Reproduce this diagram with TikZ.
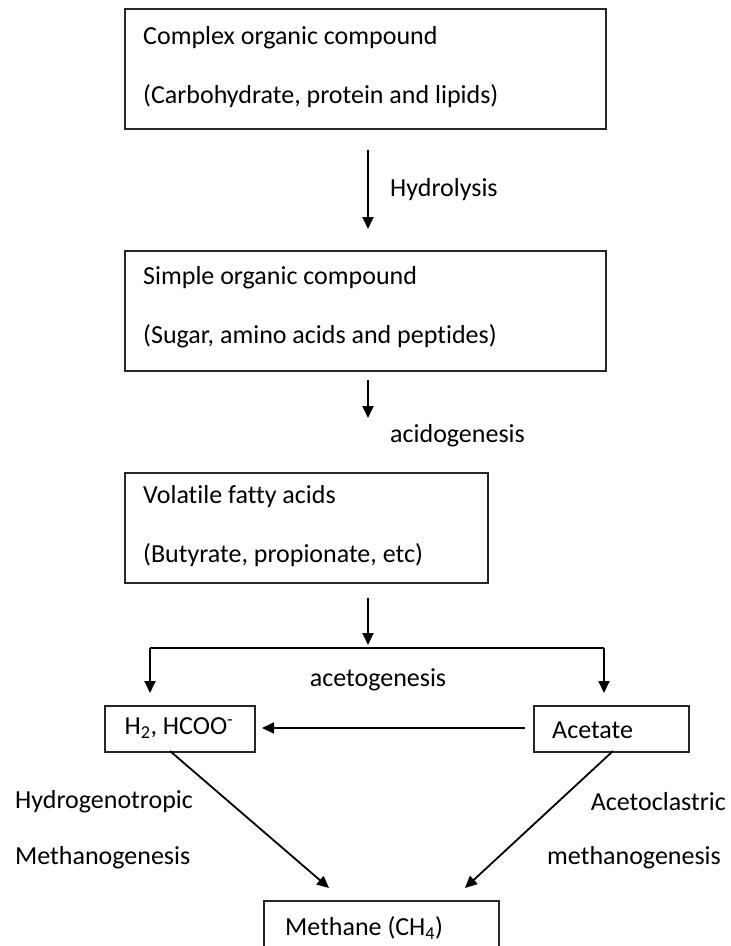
\documentclass[tikz,border=0pt]{standalone}
\usepackage{fontspec}
\setmainfont[Ligatures=NoCommon]{Carlito}
\usetikzlibrary{arrows.meta}
\begin{document}
\begin{tikzpicture}[x=1pt,y=-1pt,
  box/.style={draw=black!85, line width=1.8pt, anchor=north west, inner sep=0pt},
  txt/.style={anchor=west, inner sep=0pt, font=\fontsize{26}{30}\selectfont, text=black},
  arr/.style={line width=1.8pt, -{Triangle[length=12pt,width=11pt]}},
  ln/.style={line width=1.8pt}]
\useasboundingbox (0,0) rectangle (731,946);
\clip (0,0) rectangle (731,946);
% boxes
\node[box, minimum width=481pt, minimum height=120pt] (b1) at (124,8) {};
\node[box, minimum width=481pt, minimum height=120pt] (b2) at (124,250) {};
\node[box, minimum width=363pt, minimum height=110pt] (b3) at (124,472) {};
\node[box, minimum width=150pt, minimum height=46pt] (h2) at (104,705) {};
\node[box, minimum width=155pt, minimum height=46pt] (ac) at (533,705) {};
\node[box, minimum width=235pt, minimum height=60pt] (me) at (263,900) {};
% texts
\node[txt] (t1a) at (143,38) {Complex organic compound};
\node[txt] (t1b) at (143,96) {(Carbohydrate, protein and lipids)};
\node[txt] (t2a) at (143,278) {Simple organic compound};
\node[txt] (t2b) at (143,336) {(Sugar, amino acids and peptides)};
\node[txt] (t3a) at (143,497) {Volatile fatty acids};
\node[txt] (t3b) at (143,555) {(Butyrate, propionate, etc)};
\node[txt, anchor=center] (th2) at (179,728) {H\textsubscript{2}, HCOO\textsuperscript{-}};
\node[txt] (tac) at (552,730) {Acetate};
\node[txt] (tme) at (285,928) {Methane (CH\textsubscript{4})};
\node[txt] (l1) at (390,190) {Hydrolysis};
\node[txt] (l2) at (390,436) {acidogenesis};
\node[txt, anchor=center] (l3) at (378,680) {acetogenesis};
\node[txt] (l4) at (15,802) {Hydrogenotropic};
\node[txt] (l5) at (15,858) {Methanogenesis};
\node[txt, anchor=east] (l6) at (726,802) {Acetoclastric};
\node[txt] (l7) at (547,858) {methanogenesis};
% coordinates
\coordinate (a1s) at (368,150);
\coordinate (a1e) at (368,229);
\coordinate (a2s) at (368,380);
\coordinate (a2e) at (368,418);
\coordinate (a3s) at (368,598);
\coordinate (a3e) at (368,645);
\coordinate (jl) at (150,648);
\coordinate (jr) at (604,648);
\coordinate (dl) at (150,693);
\coordinate (dr) at (604,693);
\coordinate (hs) at (525,728);
\coordinate (he) at (262,728);
\coordinate (m1s) at (170,751);
\coordinate (m1e) at (329,888);
\coordinate (m2s) at (613,751);
\coordinate (m2e) at (465,888);
% connectors
\draw[arr] (a1s) -- (a1e);
\draw[arr] (a2s) -- (a2e);
\draw[arr] (a3s) -- (a3e);
\draw[ln] (jl) -- (jr);
\draw[arr] (jl) -- (dl);
\draw[arr] (jr) -- (dr);
\draw[arr] (hs) -- (he);
\draw[arr] (m1s) -- (m1e);
\draw[arr] (m2s) -- (m2e);
\end{tikzpicture}
\end{document}
